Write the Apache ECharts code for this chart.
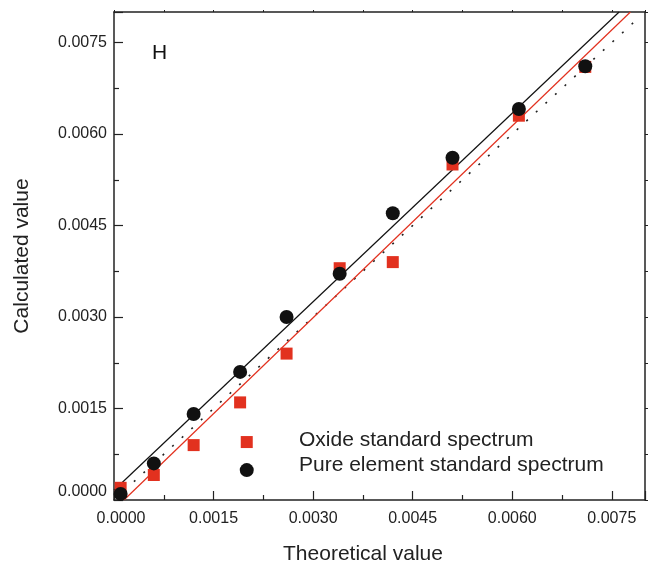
<!DOCTYPE html>
<html>
<head>
<meta charset="utf-8">
<script src="https://cdn.jsdelivr.net/npm/echarts@6/dist/echarts.min.js"></script>
<style>html,body{margin:0;padding:0;background:#fff}#c{width:651px;height:566px}</style>
</head>
<body>
<div id="c"></div>
<script>
// Theoretical values (x)
const theoretical = [0.0001, 0.0006, 0.0012, 0.0019, 0.0026, 0.0034, 0.0042, 0.0051, 0.0061, 0.0071, 0.0020];
// Calculated values, oxide standard spectrum (red squares)
const oxideCalc = [0.0002, 0.00041, 0.0009, 0.0016, 0.0024, 0.0038, 0.0039, 0.0055, 0.0063, 0.0071, 0.00095];
// Calculated values, pure element standard spectrum (black circles)
const pureCalc = [0.0001, 0.0006, 0.00141, 0.0021, 0.0030, 0.00371, 0.0047, 0.00561, 0.00641, 0.00711, 0.00049];
// Fit lines (endpoints)
const pureFitX = [0, 0.00761];
const pureFitY = [0.00016, 0.008];
const oxideFitX = [0.00015, 0.00778];
const oxideFitY = [0, 0.008];
// Reference y = x line
const refX = [0.0003, 0.0079];
const refY = [0.0003, 0.0079];
const tickInterval = 0.0015;
const axisMin = 0, axisMax = 0.008;

const pairs = (xs, ys) => xs.map((x, i) => [x, ys[i]]);
const RED = '#e2311f', BLACK = '#111111', FRAME = '#222222';
const FONT = 'Liberation Sans, Arial, sans-serif';
const fmt = v => v.toFixed(4);

const chart = echarts.init(document.getElementById('c'), null, {renderer: 'canvas'});
const baseAxis = {
  type: 'value', min: axisMin, max: axisMax, interval: tickInterval,
  axisLine: {show: true, onZero: false, lineStyle: {color: FRAME, width: 1.5}},
  splitLine: {show: false}
};
chart.setOption({
  animation: false,
  backgroundColor: '#fff',
  grid: {left: 114, right: 6, top: 12, bottom: 66, containLabel: false, outerBoundsMode: 'none'},
  legend: {
    orient: 'vertical', left: 289, top: 425, padding: 5, itemGap: 4, itemWidth: 0, itemHeight: 0, icon: 'none',
    selectedMode: false,
    textStyle: {fontFamily: FONT, fontSize: 21, color: '#222'},
    data: ['Oxide standard spectrum', 'Pure element standard spectrum']
  },
  xAxis: [
    Object.assign({}, baseAxis, {
      position: 'bottom',
      name: 'Theoretical value', nameLocation: 'middle', nameGap: 44,
      nameTextStyle: {fontFamily: FONT, fontSize: 21, color: '#222', padding: [0, 33, 0, 0]},
      axisTick: {show: true, inside: true, length: 9, lineStyle: {color: FRAME, width: 1.2}},
      minorTick: {show: true, splitNumber: 2, length: 5, lineStyle: {color: FRAME, width: 1.2}},
      axisLabel: {show: true, margin: 11, showMaxLabel: false,
        formatter: v => v === 0 ? '{z|' + fmt(v) + '}' : fmt(v),
        rich: {z: {fontFamily: FONT, fontSize: 16, color: '#222', padding: [0, 0, 0, 14]}},
        fontFamily: FONT, fontSize: 16, color: '#222'}
    }),
    Object.assign({}, baseAxis, {
      position: 'top',
      axisTick: {show: true, inside: false, length: 2, lineStyle: {color: FRAME}},
      minorTick: {show: true, splitNumber: 2, length: 2, lineStyle: {color: FRAME}},
      axisLabel: {show: false}
    })
  ],
  yAxis: [
    Object.assign({}, baseAxis, {
      position: 'left',
      name: 'Calculated value', nameLocation: 'middle', nameGap: 81,
      nameTextStyle: {fontFamily: FONT, fontSize: 21, color: '#222'},
      axisTick: {show: true, inside: true, length: 9, lineStyle: {color: FRAME, width: 1.2}},
      minorTick: {show: true, splitNumber: 2, length: 5, lineStyle: {color: FRAME, width: 1.2}},
      axisLabel: {show: true, margin: 7, showMaxLabel: false,
        formatter: v => v === 0 ? '{z|' + fmt(v) + '}' : fmt(v),
        rich: {z: {fontFamily: FONT, fontSize: 16, color: '#222', padding: [0, 0, 16, 0]}},
        fontFamily: FONT, fontSize: 16, color: '#222'}
    }),
    Object.assign({}, baseAxis, {
      position: 'right',
      axisTick: {show: true, inside: false, length: 3, lineStyle: {color: FRAME}},
      minorTick: {show: true, splitNumber: 2, length: 3, lineStyle: {color: FRAME}},
      axisLabel: {show: false}
    })
  ],
  graphic: [{
    type: 'text', left: 152, top: 43,
    style: {text: 'H', fontFamily: FONT, fontSize: 21, fill: '#111'}
  }],
  series: [
    {
      name: 'y = x', type: 'line', data: pairs(refX, refY), symbol: 'none', silent: true,
      lineStyle: {color: '#222', width: 1.6, type: [2, 11]}, z: 1
    },
    {
      name: 'Pure fit', type: 'line', data: pairs(pureFitX, pureFitY), symbol: 'none', silent: true,
      lineStyle: {color: BLACK, width: 1.2}, z: 2
    },
    {
      name: 'Oxide fit', type: 'line', data: pairs(oxideFitX, oxideFitY), symbol: 'none', silent: true,
      lineStyle: {color: RED, width: 1.2}, z: 2
    },
    {
      name: 'Oxide standard spectrum', type: 'scatter', data: pairs(theoretical, oxideCalc),
      symbol: 'rect', symbolSize: 12, itemStyle: {color: RED, opacity: 1}, z: 3
    },
    {
      name: 'Pure element standard spectrum', type: 'scatter', data: pairs(theoretical, pureCalc),
      symbol: 'circle', symbolSize: 14, itemStyle: {color: BLACK, opacity: 1}, z: 4
    }
  ]
});
</script>
</body>
</html>
